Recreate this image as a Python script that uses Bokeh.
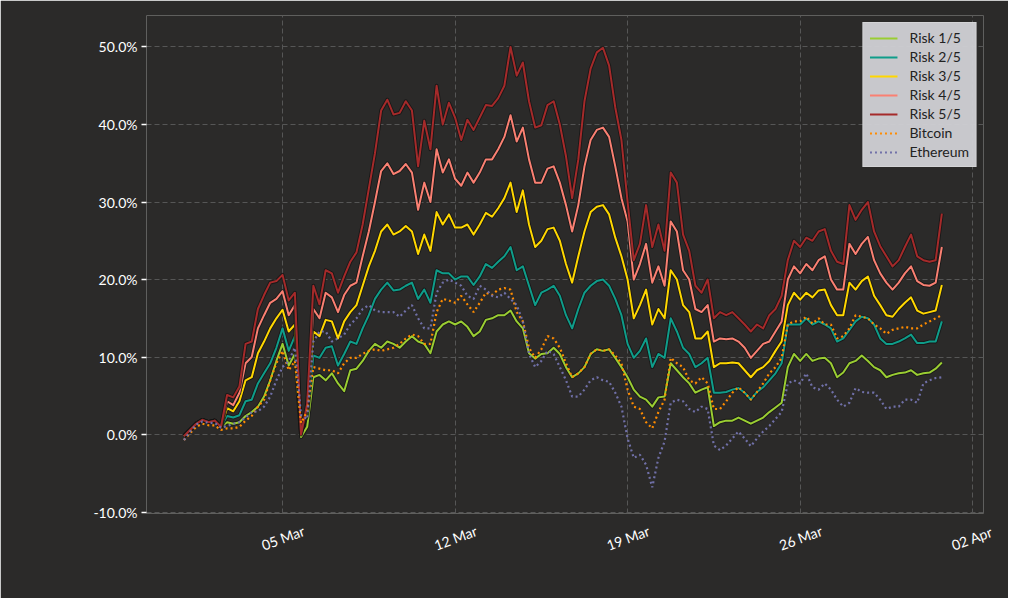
import math
import datetime as dt
from bokeh.plotting import figure
from bokeh.models import (ColumnDataSource, FixedTicker, PrintfTickFormatter, DatetimeAxis,
                          DatetimeTickFormatter, Range1d, Legend, LegendItem)
from bokeh.embed import file_html
from bokeh.resources import INLINE

# ---------------- data (percent return, sampled every 6 hours from 1 Mar) ----------------
start = dt.datetime(2021, 3, 1)
step_hours = 6

risk1 = [-0.2, 0.6, 1.4, 1.9, 1.6, 1.8, 1.0,
         1.6, 1.4, 1.6, 2.4, 2.9, 3.6, 4.9, 7.0, 9.5, 11.7, 8.9, 10.4, -0.3, 1.0, 7.4, 7.7, 7.0, 7.9, 6.6, 5.6, 8.3,
         8.5, 9.5, 10.8, 11.7, 11.2, 12.0, 11.7, 11.2, 12.0, 12.7, 12.0, 11.7, 10.5, 13.3, 14.2, 14.6, 14.2,
         14.6, 13.9, 12.7, 13.3, 14.8, 15.0, 15.4, 15.4, 16.0, 14.6, 13.7, 10.5, 9.8, 10.4, 10.5, 11.2, 10.4, 8.7, 7.4, 7.9, 8.7, 10.4, 11.0, 10.8, 11.0, 9.9, 8.7,
         7.4, 5.8, 4.9, 4.5, 3.6, 4.8, 4.9, 9.2, 8.3, 7.4, 6.6, 5.4, 5.8, 6.1, 1.1, 1.6, 1.8, 1.8, 2.2, 1.8, 1.4, 1.8, 2.2, 2.9, 3.5, 4.1, 8.7, 10.4, 9.5, 10.4, 9.5, 9.8, 9.9,
         9.2, 7.4, 8.0, 9.2, 9.5, 10.2, 9.5, 8.7, 8.3, 7.4, 7.7, 7.9, 8.0, 8.3, 7.7, 7.9, 8.0, 8.5, 9.3]

risk2 = [-0.2, 0.6, 1.4, 1.9, 1.6, 1.8, 1.0,
         2.4, 2.2, 2.5, 4.3, 4.5, 6.6, 7.9, 9.2, 11.2, 13.7, 10.8, 12.7, 0.5, 2.5, 10.2, 9.9, 11.2, 11.4, 8.9, 10.4, 12.0,
         11.7, 13.7, 15.4, 17.5, 18.7, 19.6, 18.6, 18.7, 19.2, 19.6, 17.5, 18.7, 17.0, 21.2, 20.8, 20.8, 20.0,
         20.4, 20.4, 19.3, 20.4, 22.0, 21.5, 22.3, 23.0, 24.2, 21.2, 21.7, 19.2, 16.7, 18.3, 18.7, 19.2, 17.9, 15.4, 13.7, 16.2, 18.3, 19.2, 19.8, 20.0, 19.2, 17.5, 15.4,
         11.7, 9.9, 10.8, 12.4, 8.7, 10.4, 9.9, 15.0, 13.3, 11.2, 10.4, 8.7, 9.2, 9.9, 5.4, 5.4, 5.5, 5.8, 6.0, 5.4, 4.5, 5.5, 6.1, 7.0, 7.9, 9.2, 14.2, 14.2, 14.2, 15.0, 14.2, 14.6, 14.2,
         13.7, 12.0, 12.4, 13.5, 14.6, 15.2, 15.0, 14.2, 12.4, 11.7, 11.7, 12.0, 12.4, 12.9, 11.8, 11.8, 12.0, 12.0, 14.6]

risk3 = [-0.2, 0.6, 1.4, 1.9, 1.6, 1.8, 1.0,
         3.4, 3.0, 4.3, 7.0, 7.4, 10.5, 12.0, 13.7, 15.0, 16.1, 13.3, 14.2, 0.3, 3.0, 13.3, 12.7, 14.8, 14.6, 12.4, 14.6, 15.8,
         16.7, 19.2, 21.7, 23.7, 26.2, 27.1, 25.8, 26.2, 26.9, 26.2, 23.3, 25.8, 23.7, 28.7, 27.1, 28.4, 26.7,
         26.7, 27.1, 25.8, 27.1, 28.6, 28.1, 29.2, 30.5, 32.5, 28.7, 31.5, 27.1, 24.2, 25.0, 26.5, 26.7, 25.0, 22.0, 19.6, 23.0, 26.2, 28.7, 29.4, 29.6, 28.4, 25.4, 23.0,
         20.0, 15.0, 16.7, 18.7, 14.2, 16.2, 15.0, 21.2, 20.0, 16.7, 15.8, 12.4, 12.4, 13.3, 8.7, 9.2, 9.2, 9.3, 9.2, 8.3, 7.4, 8.3, 8.7, 9.5, 10.8, 12.0, 16.7, 18.3, 17.4, 18.3, 17.7, 18.6, 18.7,
         16.7, 15.4, 15.4, 19.6, 18.7, 19.8, 20.4, 17.9, 16.7, 15.4, 15.2, 16.2, 17.0, 17.7, 16.0, 15.6, 15.8, 16.0, 19.3]

risk4 = [-0.2, 0.6, 1.4, 1.9, 1.6, 1.8, 1.0,
         4.3, 3.8, 5.4, 9.2, 10.0, 13.7, 15.4, 17.0, 17.5, 18.5, 15.4, 16.7, 0.2, 3.5, 16.2, 15.0, 18.3, 17.7, 15.8, 18.0, 19.2,
         19.6, 23.0, 26.2, 30.0, 34.0, 35.0, 33.6, 34.0, 34.9, 33.8, 29.0, 32.5, 30.0, 36.8, 33.8, 35.5, 33.0,
         32.1, 33.8, 32.5, 33.8, 35.5, 35.5, 36.8, 38.4, 41.2, 37.8, 39.6, 35.5, 32.5, 32.5, 34.3, 34.6, 32.5, 29.6, 26.2, 29.6, 34.6, 38.0, 39.3, 39.6, 38.4, 34.6, 30.5,
         27.5, 20.0, 22.0, 24.6, 19.6, 21.7, 19.2, 27.5, 26.2, 21.2, 20.0, 16.2, 15.8, 16.7, 12.0, 12.4, 12.3, 12.4, 12.0, 11.2, 9.9, 10.8, 11.7, 12.0, 13.3, 14.6, 20.0, 21.7, 20.8, 22.0, 21.2, 22.5, 23.0,
         20.0, 18.7, 18.7, 24.6, 23.3, 24.6, 25.5, 22.5, 20.8, 19.6, 18.7, 19.6, 20.8, 21.7, 19.8, 19.3, 19.2, 19.6, 24.2]

risk5 = [-0.2, 0.6, 1.4, 1.9, 1.6, 1.8, 1.0,
         5.1, 4.8, 6.2, 11.7, 12.0, 16.2, 18.0, 19.6, 19.8, 20.6, 17.3, 18.3, 0.0, 4.0, 19.2, 16.8, 21.2, 20.8, 18.3, 20.4, 22.3,
         23.5, 27.1, 31.7, 36.3, 41.8, 43.2, 41.3, 41.5, 43.0, 41.8, 34.6, 40.5, 36.8, 45.0, 40.0, 42.8, 40.9,
         38.0, 40.6, 39.3, 40.9, 42.5, 42.4, 43.4, 45.0, 50.0, 46.3, 48.0, 43.0, 39.6, 39.9, 42.5, 43.0, 40.0, 35.9, 30.5, 35.5, 43.0, 47.2, 49.3, 49.9, 47.6, 42.2, 38.0,
         30.0, 22.5, 24.6, 29.6, 24.2, 27.1, 23.7, 33.8, 32.5, 25.8, 23.7, 19.2, 18.3, 20.0, 15.0, 15.8, 15.4, 15.8, 15.0, 14.2, 13.3, 14.2, 13.7, 15.4, 16.2, 17.9, 22.5, 25.0, 24.2, 25.4, 25.0, 26.2, 26.5,
         23.7, 22.3, 22.0, 29.6, 27.7, 29.0, 30.0, 26.2, 24.3, 23.0, 21.7, 22.5, 24.2, 25.8, 23.0, 22.5, 22.3, 22.5, 28.5]

bitcoin = [-0.7, 0.2, 1.0, 1.4, 1.2, 1.2, 0.6,
           0.8, 0.8, 1.0, 1.8, 2.4, 3.6, 4.5, 7.0, 9.2, 10.8, 8.3, 9.5, 1.5, 3.0, 8.7, 8.5, 8.3, 8.3, 7.9, 9.2, 9.9,
           9.9, 10.4, 10.8, 11.0, 10.8, 11.0, 11.2, 11.7, 12.4, 12.9, 12.7, 11.7, 11.7, 15.8, 17.5, 17.3, 17.0,
           17.9, 16.8, 15.8, 17.0, 18.3, 18.0, 18.7, 18.9, 18.7, 15.8, 14.6, 11.2, 9.9, 11.0, 12.7, 12.4, 11.2, 9.2, 7.4, 7.9, 8.7, 10.4, 11.0, 10.8, 11.0, 10.2, 9.2,
           5.8, 3.6, 3.3, 1.6, 0.8, 2.9, 4.5, 9.9, 9.2, 8.7, 7.0, 6.6, 7.4, 6.6, 3.3, 3.3, 4.3, 5.4, 6.1, 5.4, 4.5, 5.5, 6.6, 7.9, 8.7, 9.9, 14.2, 14.6, 14.6, 15.2, 14.3, 15.0, 14.2,
           14.2, 12.4, 12.7, 13.7, 15.4, 15.2, 15.0, 14.2, 13.7, 13.0, 13.5, 13.7, 13.9, 13.7, 13.7, 14.2, 14.6, 15.0, 15.4]

ethereum = [-0.7, 0.4, 1.3, 1.7, 1.5, 1.5, 0.9,
            1.1, 1.4, 1.6, 2.2, 2.9, 3.0, 3.6, 4.9, 7.0, 8.7, 9.5, 11.2, 2.5, 2.0, 12.0, 13.3, 13.3, 12.0, 12.4, 12.9, 14.2,
            15.0, 16.2, 16.7, 16.0, 15.8, 15.8, 15.8, 15.2, 16.0, 16.7, 15.0, 13.7, 13.7, 18.3, 19.6, 20.0, 19.6,
            19.2, 17.9, 17.5, 19.2, 18.7, 17.9, 17.7, 18.3, 17.5, 16.7, 14.6, 10.4, 8.7, 9.5, 10.8, 10.4, 8.7, 7.0, 4.9, 4.9, 5.8, 7.0, 7.4, 7.0, 6.8, 5.4, 3.6,
            -0.5, -3.0, -2.6, -3.9, -6.8, -3.0, -0.9, 4.1, 4.5, 4.3, 3.3, 2.9, 3.6, 3.3, -1.4, -2.0, -1.4, -0.5, 0.4, -0.5, -1.5, -0.5, 0.4, 1.1, 2.0, 2.9, 6.6, 7.0, 6.6, 7.9, 6.1, 5.8, 6.6,
            5.8, 4.5, 3.6, 4.1, 6.0, 5.5, 5.4, 5.4, 4.5, 3.3, 3.6, 3.6, 4.5, 4.5, 4.1, 6.6, 7.0, 7.3, 7.4]

series_names = ["Risk 1/5", "Risk 2/5", "Risk 3/5", "Risk 4/5", "Risk 5/5", "Bitcoin", "Ethereum"]
y_ticks = [-10, 0, 10, 20, 30, 40, 50]
x_tick_dates = [dt.datetime(2021, 3, 5), dt.datetime(2021, 3, 12), dt.datetime(2021, 3, 19),
                dt.datetime(2021, 3, 26), dt.datetime(2021, 4, 2)]

times = [start + dt.timedelta(hours=step_hours * i) for i in range(len(risk1))]
src = ColumnDataSource(dict(t=times, r1=risk1, r2=risk2, r3=risk3, r4=risk4, r5=risk5,
                            btc=bitcoin, eth=ethereum))

# ---------------- figure ----------------
BG = "#2b2a29"
x0 = start - dt.timedelta(days=1.52)
x1 = start + dt.timedelta(days=32.44)
p = figure(width=1008, height=598, x_axis_type="datetime", output_backend="svg",
           toolbar_location=None, x_range=Range1d(x0, x1), y_range=Range1d(-10.18, 54.06),
           min_border_left=146, min_border_right=25, min_border_top=15, min_border_bottom=85)
p.background_fill_color = BG
p.border_fill_color = BG
p.outline_line_color = None

FONT = "Lato"
tick_ms = [d.timestamp() * 1000 for d in x_tick_dates]

# y axis
ya = p.yaxis[0]
ya.axis_line_color = None
ya.minor_tick_line_color = None
ya.major_label_text_color = "#ffffff"
ya.major_label_text_font = FONT
ya.major_label_text_font_size = "14px"
ya.ticker = FixedTicker(ticks=y_ticks)
ya.formatter = PrintfTickFormatter(format="%.1f%%")
ya.major_tick_line_color = "#ffffff"
ya.major_tick_line_width = 1.5
ya.major_tick_out = 5
ya.major_tick_in = 0
ya.major_label_standoff = 4

# x: grid on the exact dates; the visible date axis uses a range offset by 20 h so that
# its (left-anchored, rotated) labels end up centred under each date, as in the original
p.xgrid.ticker = FixedTicker(ticks=tick_ms)
p.xaxis.visible = False
shift = dt.timedelta(hours=20)
p.extra_x_ranges = {"lab": Range1d(x0 + shift, x1 + shift)}
xa = DatetimeAxis(x_range_name="lab")
xa.ticker = FixedTicker(ticks=tick_ms)
xa.formatter = DatetimeTickFormatter(days="%d %b", months="%d %b", hours="%d %b")
xa.axis_line_color = None
xa.major_tick_line_color = None
xa.minor_tick_line_color = None
xa.major_label_text_color = "#ffffff"
xa.major_label_text_font = FONT
xa.major_label_text_font_size = "14px"
xa.major_label_orientation = 0.35 - 2 * math.pi
xa.major_label_standoff = 26
p.add_layout(xa, "below")

for g in (p.xgrid[0], p.ygrid[0]):
    g.grid_line_color = "#565656"
    g.grid_line_dash = "5 3"
    g.grid_line_width = 1

colors = ["#9acd32", "#0f9d8a", "#ffd700", "#fa8072", "#a52a2a", "#ff8c00", "#7070a8"]
cols = ["r1", "r2", "r3", "r4", "r5", "btc", "eth"]

items = []
for name, col, c in zip(series_names, cols, colors):
    if col in ("btc", "eth"):
        r = p.line("t", col, source=src, line_color=c, line_width=2.2, line_dash="2 3")
    else:
        p.line("t", col, source=src, line_color="#141414", line_width=3.8, line_alpha=0.8,
               line_join="round")
        r = p.line("t", col, source=src, line_color=c, line_width=2.0, line_join="round")
    items.append(LegendItem(label=name, renderers=[r]))

legend = Legend(items=items, location="top_right")
legend.background_fill_color = "#cdcdd2"
legend.background_fill_alpha = 0.97
legend.border_line_color = "#e0e0e0"
legend.label_text_color = "#222222"
legend.label_text_font = FONT
legend.label_text_font_size = "14px"
legend.glyph_width = 28
legend.glyph_height = 16
legend.label_height = 16
legend.spacing = 2
legend.padding = 6
legend.margin = 7
legend.label_standoff = 12
p.add_layout(legend)

open("out.html", "w").write(file_html(p, INLINE))
